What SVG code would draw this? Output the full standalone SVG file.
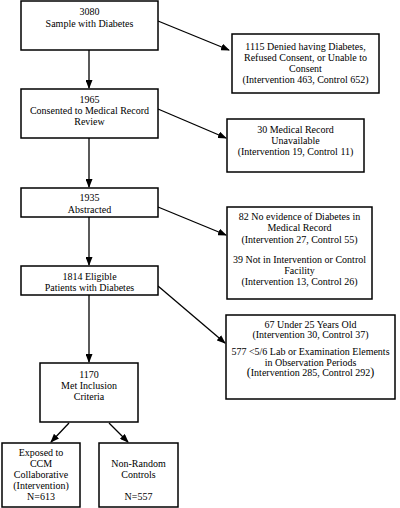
<svg xmlns="http://www.w3.org/2000/svg" width="400" height="508" viewBox="0 0 400 508">
<defs>
<style>
.box{fill:#fff;stroke:#000;stroke-width:1.5}
.t text{font-size:10px;fill:#000;text-anchor:middle}
.edge{stroke:#000;stroke-width:1.3;fill:none;marker-end:url(#ah)}
</style>
<marker id="ah" markerWidth="9" markerHeight="7" refX="8" refY="3.5" orient="auto" markerUnits="userSpaceOnUse">
<path d="M0,0 L9,3.5 L0,7 z" fill="#000"/>
</marker>
</defs>
<rect width="400" height="508" fill="#fff"/>
<g id="connectors">
<line class="edge" x1="89" y1="50" x2="89" y2="88"/>
<line class="edge" x1="89" y1="138" x2="89" y2="187"/>
<line class="edge" x1="89" y1="217" x2="89" y2="265"/>
<line class="edge" x1="89" y1="295" x2="89" y2="362"/>
<line class="edge" x1="158" y1="21" x2="229" y2="50"/>
<line class="edge" x1="158" y1="109" x2="226" y2="138"/>
<line class="edge" x1="158" y1="207" x2="226" y2="235"/>
<line class="edge" x1="158" y1="286" x2="225" y2="343"/>
<line class="edge" x1="69" y1="423" x2="51" y2="442"/>
<line class="edge" x1="109" y1="423" x2="128" y2="442"/>
</g>
<g class="t" font-family="'Liberation Serif', 'Times New Roman', 'DejaVu Serif', serif">
<g id="n3080">
<rect class="box" x="21" y="1" width="137" height="49"/>
<text x="89.5" y="14.5">3080</text>
<text x="89.5" y="26.5">Sample with Diabetes</text>
</g>
<g id="n1115">
<rect class="box" x="232" y="34" width="147" height="59"/>
<text x="305.5" y="49.5">1115 Denied having Diabetes,</text>
<text x="305.5" y="60.5">Refused Consent, or Unable to</text>
<text x="305.5" y="71.5">Consent</text>
<text x="305.5" y="82.5">(Intervention 463, Control 652)</text>
</g>
<g id="n1965">
<rect class="box" x="21" y="89" width="137" height="49"/>
<text x="89.5" y="102.5">1965</text>
<text x="89.5" y="113.5">Consented to Medical Record</text>
<text x="89.5" y="125">Review</text>
</g>
<g id="n30">
<rect class="box" x="227" y="119" width="137" height="53"/>
<text x="295.5" y="132.5">30 Medical Record</text>
<text x="295.5" y="143.5">Unavailable</text>
<text x="295.5" y="154.5">(Intervention 19, Control 11)</text>
</g>
<g id="n1935">
<rect class="box" x="21" y="188" width="137" height="29"/>
<text x="89.5" y="200.5">1935</text>
<text x="89.5" y="212.5">Abstracted</text>
</g>
<g id="n82">
<rect class="box" x="227" y="207" width="145" height="92"/>
<text x="299.5" y="219.5">82 No evidence of Diabetes in</text>
<text x="299.5" y="231">Medical Record</text>
<text x="299.5" y="243">(Intervention 27, Control 55)</text>
<text x="299.5" y="262.5">39 Not in Intervention or Control</text>
<text x="299.5" y="273.5">Facility</text>
<text x="299.5" y="284.5">(Intervention 13, Control 26)</text>
</g>
<g id="n1814">
<rect class="box" x="21" y="266" width="137" height="29"/>
<text x="89.5" y="279.5">1814 Eligible</text>
<text x="89.5" y="290.5">Patients with Diabetes</text>
</g>
<g id="n67">
<rect class="box" x="226" y="315" width="169" height="84"/>
<text x="310.5" y="327.5">67 Under 25 Years Old</text>
<text x="310.5" y="338">(Intervention 30, Control 37)</text>
<text x="310.5" y="355">577 &lt;5/6 Lab or Examination Elements</text>
<text x="310.5" y="365.5">in Observation Periods</text>
<text x="310.5" y="376"><tspan font-size="12">(</tspan>Intervention 285, Control 292<tspan font-size="12">)</tspan></text>
</g>
<g id="n1170">
<rect class="box" x="40" y="363" width="98" height="59"/>
<text x="89" y="377.5">1170</text>
<text x="89" y="388.5">Met Inclusion</text>
<text x="89" y="399.5">Criteria</text>
</g>
<g id="nExposed">
<rect class="box" x="2" y="443" width="78" height="64"/>
<text x="41" y="455.5">Exposed to</text>
<text x="41" y="466.5">CCM</text>
<text x="41" y="477.5">Collaborative</text>
<text x="41" y="488.5">(Intervention)</text>
<text x="41" y="499.5">N=613</text>
</g>
<g id="nControls">
<rect class="box" x="99" y="443" width="79" height="64"/>
<text x="138.5" y="466.5">Non-Random</text>
<text x="138.5" y="477.5">Controls</text>
<text x="138.5" y="499.5">N=557</text>
</g>
</g>
</svg>
